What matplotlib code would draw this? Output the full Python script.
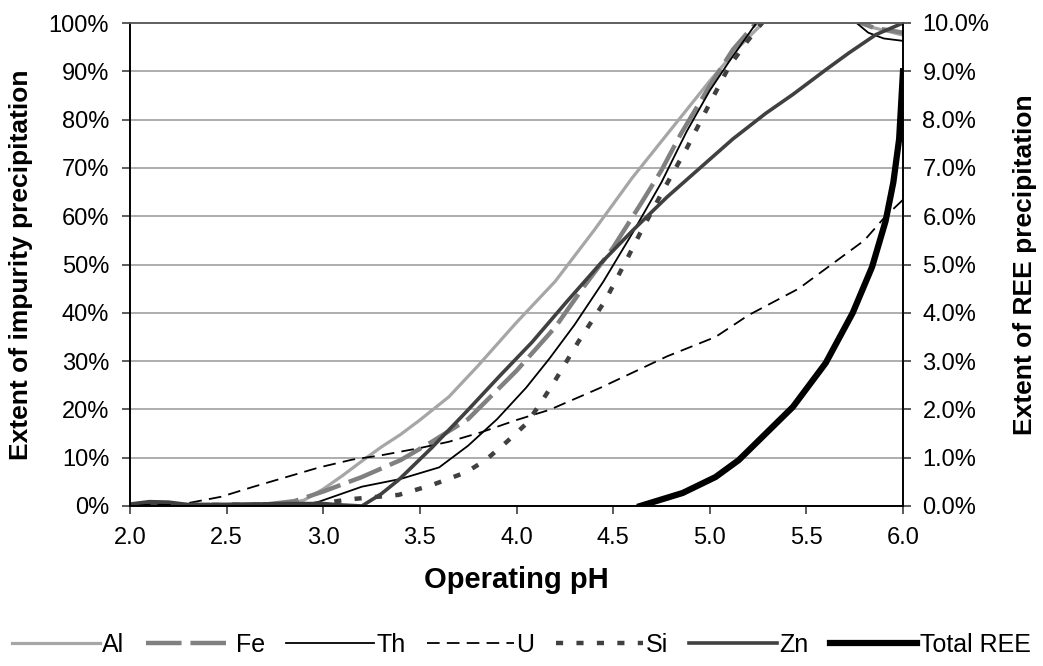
import numpy as np
import matplotlib.pyplot as plt
from matplotlib.ticker import FuncFormatter, MultipleLocator

plt.rcParams['font.family'] = ['Liberation Sans', 'DejaVu Sans']

## Data (pH vs % precipitated)
ph_al = [2.0, 2.3, 2.6, 2.8, 2.9, 3.0, 3.1, 3.2, 3.3, 3.4, 3.5, 3.65, 3.8, 4.0, 4.2, 4.4, 4.6, 4.8, 5.0, 5.15, 5.3, 5.5, 5.75, 5.85, 6.0]
al = [0.2, 0.2, 0.3, 0.4, 1.2, 3.5, 6.3, 9.3, 12.2, 14.8, 17.8, 22.6, 29.0, 38.0, 46.5, 57.0, 68.0, 78.0, 88.0, 95.0, 101.0, 101.0, 100.5, 99.0, 97.5]

ph_fe = [2.0, 2.3, 2.7, 2.85, 3.0, 3.2, 3.4, 3.55, 3.75, 3.9, 4.0, 4.1, 4.2, 4.35, 4.5, 4.65, 4.75, 4.85, 5.0, 5.12, 5.25, 5.5, 5.75, 5.85, 6.0]
fe = [0.2, 0.2, 0.3, 1.0, 3.0, 6.0, 9.5, 13.0, 18.0, 24.0, 28.0, 32.5, 37.0, 45.5, 53.5, 63.0, 69.5, 77.0, 87.0, 94.5, 100.5, 101.0, 100.5, 99.0, 98.0]

ph_th = [2.0, 2.3, 2.95, 3.0, 3.2, 3.4, 3.6, 3.75, 3.9, 4.05, 4.17, 4.3, 4.45, 4.6, 4.75, 4.88, 5.0, 5.1, 5.25, 5.5, 5.76, 5.82, 5.9, 6.0]
th = [0.3, 0.4, 0.5, 1.2, 4.0, 5.6, 8.0, 12.5, 18.0, 24.5, 30.5, 37.5, 46.5, 56.5, 67.0, 77.5, 86.0, 92.0, 100.5, 101.0, 100.0, 98.0, 96.8, 96.3]

ph_u = [2.0, 2.25, 2.3, 2.47, 2.64, 2.81, 2.98, 3.15, 3.3, 3.5, 3.65, 3.82, 4.0, 4.17, 4.43, 4.6, 4.78, 5.03, 5.2, 5.46, 5.63, 5.8, 5.91, 6.0]
u = [0.2, 0.2, 0.6, 1.9, 4.0, 6.0, 8.0, 9.6, 10.5, 12.0, 13.3, 15.3, 17.8, 19.9, 24.4, 27.6, 31.0, 35.0, 39.5, 45.0, 50.0, 55.0, 60.0, 63.4]

ph_si = [2.0, 2.9, 3.0, 3.14, 3.39, 3.56, 3.74, 3.84, 3.95, 4.05, 4.12, 4.2, 4.32, 4.46, 4.57, 4.64, 4.76, 4.88, 4.99, 5.1, 5.19, 5.28, 5.5, 5.75, 6.0]
si = [0.2, 0.3, 0.6, 1.4, 2.3, 4.3, 7.0, 9.5, 13.3, 17.0, 21.0, 26.0, 34.0, 42.6, 51.0, 56.5, 65.4, 74.0, 82.6, 91.0, 96.0, 100.5, 101.0, 101.0, 101.0]

ph_zn = [2.0, 2.1, 2.2, 2.3, 2.5, 2.8, 3.0, 3.1, 3.2, 3.3, 3.39, 3.56, 3.74, 3.91, 4.08, 4.26, 4.43, 4.6, 4.78, 4.95, 5.12, 5.29, 5.43, 5.6, 5.72, 5.86, 6.0]
zn = [0.4, 0.9, 0.8, 0.3, 0.3, 0.5, 0.5, 0.2, 0.0, 2.5, 5.4, 12.0, 19.5, 26.8, 33.9, 42.3, 50.0, 57.0, 64.0, 70.0, 76.0, 81.3, 85.2, 90.3, 93.8, 97.6, 100.0]

# Total REE, secondary axis (%)
ph_ree = [4.64, 4.86, 5.03, 5.15, 5.29, 5.43, 5.6, 5.74, 5.84, 5.91, 5.95, 5.98, 6.0]
ree = [0.0, 0.27, 0.6, 0.95, 1.5, 2.05, 2.96, 4.0, 4.95, 5.9, 6.7, 7.6, 9.0]

fig = plt.figure(figsize=(10.43, 6.66), dpi=100)
ax = fig.add_axes([130/1043, 1 - 506/666, 773/1043, 483/666])
ax2 = ax.twinx()

ax.set_xlim(2.0, 6.0)
ax.set_ylim(0, 100)
ax2.set_ylim(0, 10)

ax.yaxis.grid(True, color='#a0a0a0', lw=1.2)
ax.set_axisbelow(True)

l_al, = ax.plot(ph_al, al, color='#a6a6a6', lw=2.3, label='Al')
l_fe, = ax.plot(ph_fe, fe, color='#808080', lw=3.2, dashes=(8, 2), label='Fe')
l_th, = ax.plot(ph_th, th, color='black', lw=1.3, label='Th')
l_u, = ax.plot(ph_u, u, color='black', lw=1.3, dashes=(7, 4), label='U')
l_si, = ax.plot(ph_si, si, color='#404040', lw=3.2, dashes=(1.6, 3.0), label='Si')
l_zn, = ax.plot(ph_zn, zn, color='#404040', lw=2.6, label='Zn')
l_ree, = ax2.plot(ph_ree, ree, color='black', lw=4.5, label='Total REE')

ax.xaxis.set_major_locator(MultipleLocator(0.5))
ax.xaxis.set_major_formatter(FuncFormatter(lambda v, p: '%.1f' % v))
ax.yaxis.set_major_locator(MultipleLocator(10))
ax.yaxis.set_major_formatter(FuncFormatter(lambda v, p: '%d%%' % v))
ax2.yaxis.set_major_locator(MultipleLocator(1))
ax2.yaxis.set_major_formatter(FuncFormatter(lambda v, p: '%.1f%%' % v))

for a in (ax, ax2):
    a.tick_params(labelsize=17, length=6, width=1.2, color='#404040', direction='out')
    for s in a.spines.values():
        s.set_linewidth(1.2)
        s.set_color('black')
    a.spines['top'].set_color('#606060')
ax.tick_params(axis='y', pad=9)
ax2.tick_params(axis='y', pad=8)
ax.tick_params(axis='x', pad=9)

ax.set_xlabel('Operating pH', fontsize=21, fontweight='bold')
ax.set_ylabel('Extent of impurity precipitation', fontsize=19, fontweight='bold')
ax2.set_ylabel('Extent of REE precipitation', fontsize=19, fontweight='bold')
ax.yaxis.set_label_coords(-0.125, 0.5)
ax2.yaxis.set_label_coords(1.142, 0.5)
ax.xaxis.set_label_coords(0.5, -0.125)

fig.legend(handles=[l_al, l_fe, l_th, l_u, l_si, l_zn, l_ree], loc='center',
           bbox_to_anchor=(0.5, 1 - 645/666), ncol=7, frameon=False,
           fontsize=18, handlelength=3.5, handletextpad=0.1, columnspacing=0.85)

fig.savefig('out.png', dpi=100)
